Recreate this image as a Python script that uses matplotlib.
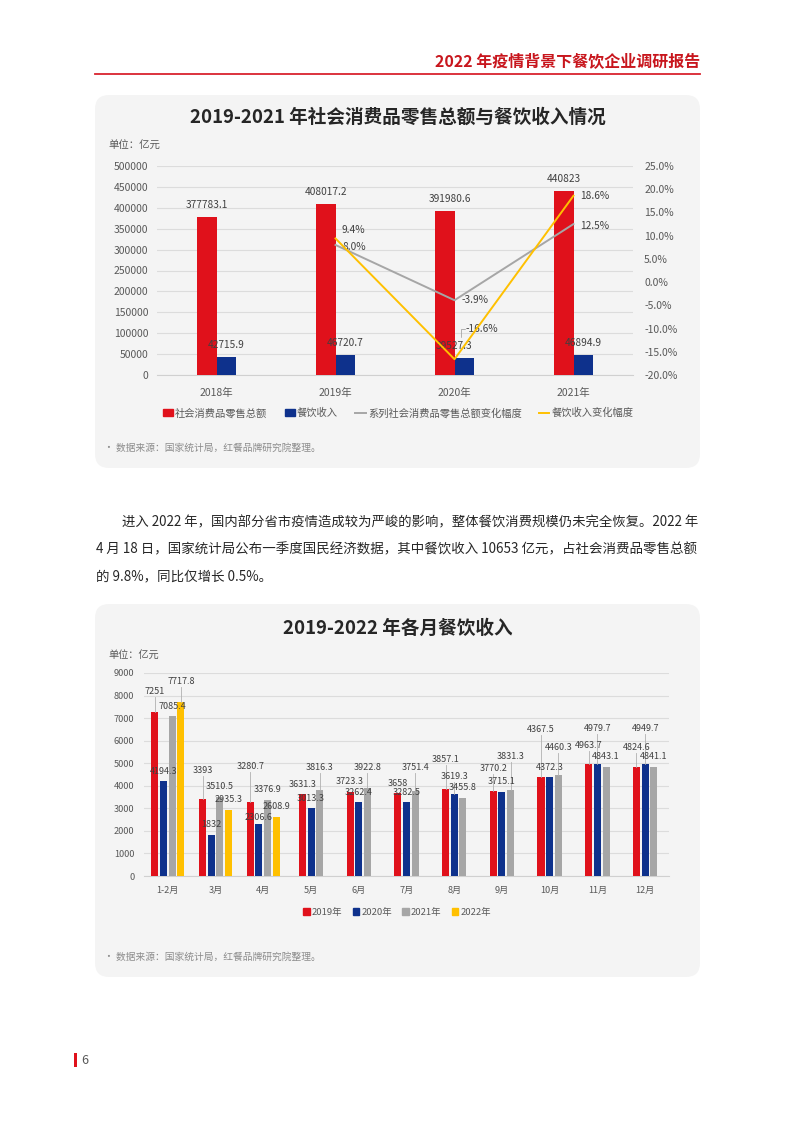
import matplotlib
matplotlib.use('Agg')
import matplotlib.pyplot as plt
from matplotlib.patches import FancyBboxPatch, Patch, Rectangle
from matplotlib.lines import Line2D
from matplotlib.transforms import offset_copy
import numpy as np

plt.rcParams['font.family'] = ['Noto Sans CJK SC', 'DejaVu Sans']

W, H = 794, 1123

# ---- chart 1 data ----
years = ['2018年', '2019年', '2020年', '2021年']
retail = [377783.1, 408017.2, 391980.6, 440823]
catering = [42715.9, 46720.7, 39527.3, 46894.9]
retail_chg = [8.0, -3.9, 12.5]      # 2019-2021
catering_chg = [9.4, -16.6, 18.6]   # 2019-2021

# ---- chart 2 data ----
months = ['1-2月', '3月', '4月', '5月', '6月', '7月', '8月', '9月', '10月', '11月', '12月']
rev_2019 = [7251, 3393, 3280.7, 3631.3, 3723.3, 3658, 3857.1, 3770.2, 4367.5, 4963.7, 4824.6]
rev_2020 = [4194.3, 1832, 2306.6, 3013.3, 3262.4, 3282.5, 3619.3, 3715.1, 4372.3, 4979.7, 4949.7]
rev_2021 = [7085.4, 3510.5, 3376.9, 3816.3, 3922.8, 3751.4, 3455.8, 3831.3, 4460.3, 4843.1, 4841.1]
rev_2022 = [7717.8, 2935.3, 2608.9]
series_names = ['2019年', '2020年', '2021年', '2022年']

# where the data labels sit (value units), as in the original layout
lab_2019 = [8200, 4699, 4876, 4078, 4211, 4122, 5186, 4787, 6516, 5807, 5718]
lab_2020 = [4654, 2305, 2615, 3457, 3723, 3723, 4433, 4211, 4832, 6560, 6560]
lab_2021 = [7535, 3989, 3856, 4832, 4832, 4832, 3945, 5319, 5718, 5319, 5319]
lab_2022 = [8644, 3413, 3103]

RED = '#e0111b'
BLUE = '#0e318c'
GRAY = '#a6a6a6'
YELLOW = '#ffc000'
TXT = '#404040'
TICK = '#595959'
GRID = '#dcdcdc'

fig = plt.figure(figsize=(W / 100, H / 100), dpi=100)
fig.patch.set_facecolor('white')

bg = fig.add_axes([0, 0, 1, 1], zorder=0)
bg.set_xlim(0, W)
bg.set_ylim(H, 0)
bg.axis('off')


def px_axes(l, t, w, h):
    a = fig.add_axes([l / W, 1 - (t + h) / H, w / W, h / H], zorder=2)
    a.patch.set_alpha(0)
    return a


# header
bg.text(700, 61, '2022 年疫情背景下餐饮企业调研报告', color='#c8161d', fontsize=11.5,
        fontweight='bold', ha='right', va='center')
bg.plot([95, 700], [73.5, 73.5], color='#d9232e', lw=1.3)

# panels
for top in (95, 604):
    bg.add_patch(FancyBboxPatch((95, top), 605, 373, boxstyle='round,pad=0,rounding_size=14',
                                fc='#f4f4f4', ec='none'))

# ================= chart 1 =================
bg.text(398, 117, '2019-2021 年社会消费品零售总额与餐饮收入情况', fontsize=13.4,
        fontweight='bold', color='#262626', ha='center', va='center')
bg.text(108, 146, '单位：亿元', fontsize=7.5, color=TICK, ha='left', va='center')

ax1 = px_axes(157, 166, 476, 209)
x = np.arange(len(years))
bw = 0.168
ax1.bar(x - bw / 2, retail, bw, color=RED, zorder=3)
ax1.bar(x + bw / 2, catering, bw, color=BLUE, zorder=3)
ax1.set_xlim(-0.5, len(years) - 0.5)
ax1.set_ylim(0, 500000)
ax1.set_yticks(np.arange(0, 500001, 50000))
ax1.yaxis.grid(True, color=GRID, lw=0.8)
ax1.set_axisbelow(True)
for s in ax1.spines.values():
    s.set_visible(False)
ax1.spines['bottom'].set_visible(True)
ax1.spines['bottom'].set_color('#d0d0d0')
ax1.set_xticks(x, years)
ax1.tick_params(axis='both', length=0, labelsize=7.5, colors=TICK)
ax1.tick_params(axis='x', pad=9)
ax1.tick_params(axis='y', pad=6)

for i, v in enumerate(retail):
    dx = 5 if i == 2 else 0
    ax1.annotate(str(v), (x[i] - bw / 2, v), xytext=(dx, 12), textcoords='offset pixels',
                 ha='center', va='center', fontsize=7.3, color=TXT, zorder=5)
for i, v in enumerate(catering):
    dx = -10 if i == 2 else 0
    ax1.annotate(str(v), (x[i] + bw / 2, v), xytext=(dx, 12), textcoords='offset pixels',
                 ha='center', va='center', fontsize=7.3, color=TXT, zorder=5)

ax1r = ax1.twinx()
ax1r.patch.set_alpha(0)
ax1r.set_ylim(-20, 25)
ax1r.set_yticks(np.arange(-20, 26, 5))
ax1r.set_yticklabels(['{:.1f}%'.format(t) for t in np.arange(-20, 26, 5)])
ax1r.tick_params(axis='y', length=0, labelsize=7.5, colors=TICK, pad=8)
for s in ax1r.spines.values():
    s.set_visible(False)
ax1r.plot(x[1:], retail_chg, color=GRAY, lw=1.4, zorder=4)
ax1r.plot(x[1:], catering_chg, color=YELLOW, lw=1.4, zorder=4)

gray_off = [(7, -2), (7, 0), (7, -2)]
yel_off = [(6, 8), (11, 30), (7, 0)]
for i, v in enumerate(retail_chg):
    ax1r.annotate('{:.1f}%'.format(v), (x[i + 1], v), xytext=gray_off[i], textcoords='offset pixels',
                  ha='left', va='center', fontsize=7.3, color=TXT)
for i, v in enumerate(catering_chg):
    ax1r.annotate('{:.1f}%'.format(v), (x[i + 1], v), xytext=yel_off[i], textcoords='offset pixels',
                  ha='left', va='center', fontsize=7.3, color=TXT)
# small bent leader for -16.6%
shifted = offset_copy(ax1r.transData, fig=fig, x=6, y=22, units='dots')
ax1r.annotate('', (x[2], catering_chg[1]), xycoords=shifted, xytext=(4, 8), textcoords='offset pixels',
              arrowprops=dict(arrowstyle='-', color=GRAY, lw=0.6, shrinkA=0, shrinkB=0,
                              connectionstyle='angle,angleA=180,angleB=90,rad=0'))

h1 = [Patch(color=RED), Patch(color=BLUE), Line2D([], [], color=GRAY, lw=1.4),
      Line2D([], [], color=YELLOW, lw=1.4)]
l1 = ['社会消费品零售总额', '餐饮收入', '系列社会消费品零售总额变化幅度', '餐饮收入变化幅度']
fig.legend(h1, l1, loc='center', bbox_to_anchor=(398 / W, 1 - 413 / H), ncol=4, frameon=False,
           fontsize=7.4, handlelength=1.0, handleheight=0.7, handletextpad=0.2,
           columnspacing=1.7, labelcolor=TICK)

bg.text(104, 448, '• 数据来源：国家统计局，红餐品牌研究院整理。', fontsize=7, color='#8c8c8c',
        ha='left', va='center')

# ================= paragraph =================
para = [(122, 522, 9.6, '进入 2022 年，国内部分省市疫情造成较为严峻的影响，整体餐饮消费规模仍未完全恢复。2022 年'),
        (96, 549, 9.7, '4 月 18 日，国家统计局公布一季度国民经济数据，其中餐饮收入 10653 亿元，占社会消费品零售总额'),
        (96, 576, 9.7, '的 9.8%，同比仅增长 0.5%。')]
for px, py, fs, s in para:
    bg.text(px, py, s, fontsize=fs, color='#262626', ha='left', va='center')

# ================= chart 2 =================
bg.text(398, 628, '2019-2022 年各月餐饮收入', fontsize=13.4, fontweight='bold', color='#262626',
        ha='center', va='center')
bg.text(108, 655, '单位：亿元', fontsize=7.3, color=TICK, ha='left', va='center')

ax2 = px_axes(144, 673, 525, 203)
series = [rev_2019, rev_2020, rev_2021, rev_2022]
labels_y = [lab_2019, lab_2020, lab_2021, lab_2022]
colors = [RED, BLUE, GRAY, YELLOW]
bw2 = 0.147
pitch = 0.182
xm = np.arange(len(months))
for i in range(len(months)):
    present = [k for k in range(4) if i < len(series[k])]
    n = len(present)
    for j, k in enumerate(present):
        xc = xm[i] + (j - (n - 1) / 2) * pitch
        v = series[k][i]
        ax2.bar(xc, v, bw2, color=colors[k], zorder=3)
        ly = labels_y[k][i]
        ax2.text(xc, ly, str(v), ha='center', va='center', fontsize=6.5, color=TXT, zorder=5)
        if ly - v > 600:
            ax2.plot([xc, xc], [ly - 260, v], color='#b0b0b0', lw=0.6, zorder=4)

ax2.set_xlim(-0.5, len(months) - 0.5)
ax2.set_ylim(0, 9000)
ax2.set_yticks(np.arange(0, 9001, 1000))
ax2.yaxis.grid(True, color=GRID, lw=0.8)
ax2.set_axisbelow(True)
for s in ax2.spines.values():
    s.set_visible(False)
ax2.spines['bottom'].set_visible(True)
ax2.spines['bottom'].set_color('#d0d0d0')
ax2.set_xticks(xm, months)
ax2.tick_params(axis='both', length=0, labelsize=6.6, colors=TICK)
ax2.tick_params(axis='x', pad=7)
ax2.tick_params(axis='y', pad=7)

h2 = [Patch(color=c) for c in colors]
fig.legend(h2, series_names, loc='center', bbox_to_anchor=(397 / W, 1 - 912 / H), ncol=4,
           frameon=False, fontsize=6.8, handlelength=0.7, handleheight=0.7, handletextpad=0.2,
           columnspacing=1.1, labelcolor=TICK)

bg.text(104, 957, '• 数据来源：国家统计局，红餐品牌研究院整理。', fontsize=7, color='#8c8c8c',
        ha='left', va='center')

# page number
bg.add_patch(Rectangle((74, 1053), 2.5, 14, color='#e0111b', lw=0))
bg.text(81, 1060, '6', fontsize=9, color=TICK, ha='left', va='center')

fig.savefig('out.png', dpi=100)
